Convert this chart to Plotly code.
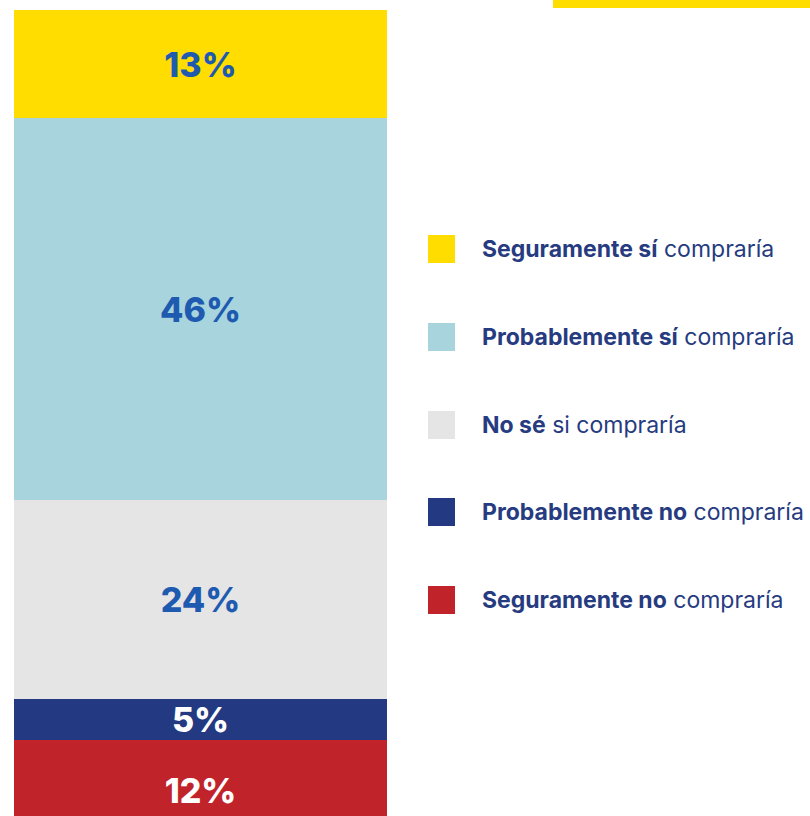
import plotly.graph_objects as go

# Data (bottom to top of the stacked bar)
categories = ["Seguramente no compraría", "Probablemente no compraría", "No sé si compraría",
              "Probablemente sí compraría", "Seguramente sí compraría"]
bold_parts = ["Seguramente no", "Probablemente no", "No sé", "Probablemente sí", "Seguramente sí"]
rest_parts = [" compraría", " compraría", " si compraría", " compraría", " compraría"]
values = [12, 5, 24, 46, 13]
colors = ["#C1232B", "#233A82", "#E5E5E5", "#A8D5DD", "#FFDD00"]
label_colors = ["#FFFFFF", "#FFFFFF", "#1E5BB0", "#1E5BB0", "#1E5BB0"]

W, H = 810, 816
FONT = "Inter"

fig = go.Figure()
for cat, v, c, lc in zip(categories, values, colors, label_colors):
    fig.add_trace(go.Bar(
        x=["total"], y=[v], name=cat,
        marker=dict(color=c, line=dict(width=0)),
        text=[f"{v}%"], textposition="inside", insidetextanchor="middle",
        textangle=0, constraintext="none",
        textfont=dict(family=FONT, size=34, color=lc, weight=800),
        hoverinfo="skip", showlegend=False,
    ))

# scale: ~8.3 px per percent, top of bar at 10 px from top
s = 8.3
y_top = 100 + 10 / s
y_bot = 100 - (H - 10) / s

shapes = []
annotations = []
# legend (top to bottom: reverse order)
leg_y = [249, 337, 425, 512, 600]
for i, idx in enumerate(range(len(categories) - 1, -1, -1)):
    py = leg_y[i]
    shapes.append(dict(type="rect", xref="paper", yref="paper",
                       x0=428 / W, x1=455 / W,
                       y0=1 - (py + 14) / H, y1=1 - (py - 14) / H,
                       fillcolor=colors[idx], line=dict(width=0)))
    annotations.append(dict(
        xref="paper", yref="paper", x=480 / W, y=1 - py / H,
        xanchor="left", yanchor="middle", showarrow=False,
        text=f"<b>{bold_parts[idx]}</b>{rest_parts[idx]}",
        font=dict(family=FONT, size=23, color="#263B80"),
    ))

# decorative yellow strip at top right
shapes.append(dict(type="rect", xref="paper", yref="paper",
                   x0=553 / W, x1=1.0, y0=1 - 8 / H, y1=1.0,
                   fillcolor="#FFDD00", line=dict(width=0)))

fig.update_layout(
    width=W, height=H,
    margin=dict(l=0, r=0, t=0, b=0),
    barmode="stack", bargap=0,
    paper_bgcolor="white", plot_bgcolor="white",
    xaxis=dict(domain=[14 / W, 387 / W], visible=False, fixedrange=True),
    yaxis=dict(range=[y_bot, y_top], visible=False, fixedrange=True),
    shapes=shapes, annotations=annotations,
    showlegend=False,
)

fig.write_html("out.html", config={"displayModeBar": False},
               post_script="document.body.style.margin='0';document.body.style.overflow='hidden';")
